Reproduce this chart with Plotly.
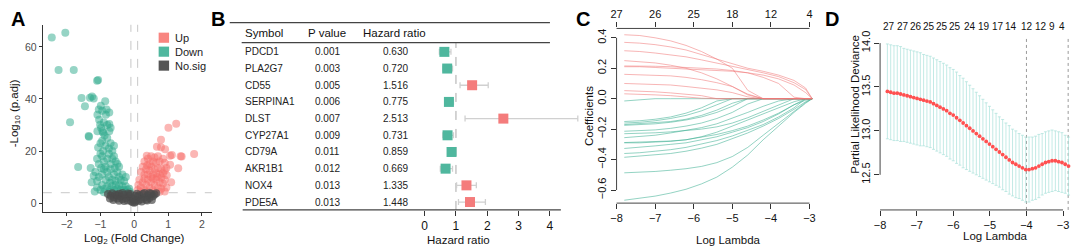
import plotly.graph_objects as go

W, H = 1072, 248
FONT = "Liberation Sans, Arial, Helvetica, sans-serif"


def X(px):
    return px / W


def Y(py):
    return 1 - py / H


# ---------------- Panel A: volcano ----------------
down_x = [-2.44, -2.04, -2.24, -1.79, -1.10, -1.07, -1.56, -1.31, -1.25, -1.20, -1.46, -0.86, -0.99, -0.74, -0.84, -1.90,
          -1.09, -1.04, -0.74, -1.01, -1.09, -0.94, -0.74, -1.35, -1.66, -1.29, -1.20, -1.26, -1.17, -1.10, -1.07, -1.34,
          -0.95, -0.85, -0.80, -0.75, -0.70, -0.65, -0.92, -1.00, -0.60, -0.88,
          -1.05, -0.95, -0.90, -0.80, -0.75, -0.70, -0.65, -0.60, -0.55, -0.50, -0.45, -0.85, -1.00, -0.58,
          -1.15, -1.05, -0.95, -0.90, -0.85, -0.80, -0.75, -0.70, -0.65, -0.60, -0.55, -0.50, -0.45, -0.40, -0.35, -0.30,
          -0.25, -1.10, -0.98, -0.72,
          -1.10, -1.00, -0.95, -0.88, -0.80, -0.72, -0.66, -0.60, -0.55, -0.50, -0.45, -0.40, -0.35, -0.30, -0.25, -0.20,
          -0.15, -0.12, -0.28, -0.50, -0.70, -0.90,
          -0.98, -0.90, -0.80, -0.70, -0.95, -1.05, -0.82, -0.92]
down_y = [63.6, 65.4, 51.1, 51.1, 47.0, 47.3, 40.4, 40.5, 41.0, 40.2, 37.2, 39.1, 37.4, 34.8, 33.9, 31.1,
          33.9, 32.0, 30.4, 30.1, 27.6, 27.6, 27.6, 25.8, 13.9, 13.5, 10.5, 8.0, 4.5, 17.0, 21.4, 25.5,
          24, 22, 25, 21, 23, 20, 20, 23, 22, 26,
          15, 18, 16, 17, 19, 15, 17, 18, 16, 15, 14, 14, 19, 13.5,
          12, 10, 11, 13, 9, 12, 10, 13, 9, 11, 8.5, 12, 10, 9, 11, 8.5,
          10, 8.5, 13.5, 7.8,
          6, 5, 7, 5.5, 6.5, 5, 6.5, 5, 7, 5.5, 7, 5, 6.5, 5, 6.5, 5,
          5.5, 4.3, 4.2, 4.2, 4.3, 4.2,
          29, 31, 30, 29, 35.5, 36, 36, 27]
up_x = [1.24, 1.01, 0.79, 0.79, 0.67, 1.06, 1.40, 1.77, 1.06, 1.30, 1.09, 0.37, 0.91, 1.11, 1.37, 0.96,
        0.30, 0.40, 0.50, 0.55, 0.60, 0.65, 0.70, 0.75, 0.45, 0.85, 0.90, 0.38,
        0.20, 0.25, 0.30, 0.35, 0.40, 0.45, 0.50, 0.55, 0.60, 0.65, 0.70, 0.75, 0.80, 0.85, 0.90, 0.95, 0.50, 0.68,
        0.10, 0.12, 0.15, 0.20, 0.25, 0.30, 0.35, 0.40, 0.45, 0.50, 0.55, 0.60, 0.65, 0.70, 0.75, 0.80, 0.85, 0.90,
        0.95, 0.90, 0.20, 0.40, 0.60, 0.75, 0.30, 0.55, 0.80]
up_y = [30.5, 29.0, 24.3, 21.5, 21.7, 18.2, 17.9, 18.9, 14.7, 13.4, 8.0, 18.2, 20.7, 18.5, 18.0, 10.7,
        16, 17, 18, 16, 17.5, 15.5, 18, 16, 15, 17, 15.5, 14.5,
        12, 14, 11, 13, 11, 12.5, 14, 11, 13, 11.5, 13.5, 11, 13, 11.5, 12.5, 13.5, 10, 10,
        5, 7, 9, 6, 8, 5, 7, 9, 6, 8, 5, 7, 9, 6, 8, 5.5, 7.5, 9,
        6, 4.5, 4.3, 4.3, 4.2, 4.4, 9.5, 9.5, 9.8]
ns_x = [-0.78, -0.70, -0.65, -0.60, -0.55, -0.50, -0.45, -0.40, -0.35, -0.30, -0.25, -0.20, -0.15, -0.10, -0.08, -0.05,
        0.00, 0.03, 0.06, 0.10, 0.12, 0.15, 0.20, 0.25, 0.30, 0.35, 0.40, 0.45, 0.50, 0.55, 0.60, 0.65, -0.62, -0.45,
        -0.30, -0.18, -0.02, 0.08, 0.22, 0.38, 0.52, -0.72, -0.50, 0.30, 0.45, -0.35, -0.12, 0.02]
ns_y = [3.5, 2.8, 3.8, 2.2, 3.2, 1.8, 3.6, 2.5, 1.5, 3.2, 2.0, 1.0, 2.8, 0.8, 2.0, 0.3,
        0.1, 0.5, 1.2, 2.5, 0.9, 3.0, 1.5, 3.5, 2.2, 1.3, 3.0, 2.0, 3.6, 2.6, 3.3, 3.8, 1.2, 0.9,
        0.8, 3.7, 1.5, 3.6, 0.6, 1.0, 1.2, 1.8, 2.9, 3.9, 3.9, 3.9, 3.5, 2.8]
a_xticks = [-2, -1, 0, 1, 2]
a_yticks = [0, 20, 40, 60]
fc_cut = 0.1
p_cut = 4
legend_labels = ["Up", "Down", "No.sig"]

# ---------------- Panel B: forest ----------------
symbols = ["PDCD1", "PLA2G7", "CD55", "SERPINA1", "DLST", "CYP27A1", "CD79A", "AKR1B1", "NOX4", "PDE5A"]
p_values = ["0.001", "0.003", "0.005", "0.006", "0.007", "0.009", "0.011", "0.012", "0.013", "0.013"]
hazard = [0.630, 0.720, 1.516, 0.775, 2.513, 0.731, 0.859, 0.669, 1.335, 1.448]
ci_low = [0.47, 0.58, 1.13, 0.65, 1.29, 0.58, 0.77, 0.50, 1.02, 1.08]
ci_high = [0.84, 0.89, 2.03, 0.92, 4.89, 0.92, 0.96, 0.89, 1.65, 1.94]
b_xticks = [0, 1, 2, 3, 4]

# ---------------- Panel C: lasso paths ----------------
c_loglam = [-7.8, -7.4, -7.0, -6.6, -6.2, -5.8, -5.4, -5.0, -4.6, -4.2, -3.8, -3.4, -3.1, -2.93]
c_pos_paths = [
    [0.420, 0.415, 0.400, 0.380, 0.350, 0.310, 0.260, 0.200, 0.055, 0, 0, 0, 0, 0],
    [0.370, 0.365, 0.355, 0.340, 0.320, 0.290, 0.260, 0.225, 0.200, 0.180, 0.155, 0.120, 0.070, 0],
    [0.315, 0.310, 0.300, 0.290, 0.275, 0.255, 0.235, 0.210, 0.190, 0.170, 0.145, 0.105, 0.060, 0],
    [0.250, 0.245, 0.235, 0.220, 0.200, 0.170, 0.130, 0.080, 0.025, 0, 0, 0, 0, 0],
    [0.215, 0.215, 0.213, 0.210, 0.205, 0.200, 0.195, 0.185, 0.170, 0.140, 0.100, 0.010, 0, 0],
    [0.210, 0.210, 0.205, 0.200, 0.195, 0.190, 0.185, 0.180, 0.170, 0.155, 0.130, 0.090, 0.040, 0],
    [0.160, 0.158, 0.155, 0.150, 0.140, 0.125, 0.105, 0.080, 0.030, 0, 0, 0, 0, 0],
    [0.100, 0.098, 0.095, 0.090, 0.080, 0.070, 0.058, 0.040, 0.012, 0, 0, 0, 0, 0],
    [0.053, 0.050, 0.045, 0.038, 0.030, 0.020, 0, 0, 0, 0, 0, 0, 0, 0],
    [0.032, 0.030, 0.025, 0.020, 0.012, 0.003, 0, 0, 0, 0, 0, 0, 0, 0],
]
c_neg_paths = [
    [-0.667, -0.655, -0.640, -0.620, -0.595, -0.560, -0.515, -0.450, -0.370, -0.270, -0.180, -0.090, -0.030, 0],
    [-0.487, -0.483, -0.478, -0.470, -0.460, -0.445, -0.420, -0.380, -0.320, -0.240, -0.160, -0.080, -0.025, 0],
    [-0.385, -0.378, -0.370, -0.360, -0.345, -0.325, -0.300, -0.265, -0.225, -0.180, -0.130, -0.070, -0.020, 0],
    [-0.360, -0.355, -0.345, -0.335, -0.320, -0.300, -0.275, -0.245, -0.210, -0.170, -0.120, -0.060, 0, 0],
    [-0.327, -0.320, -0.310, -0.300, -0.290, -0.270, -0.250, -0.220, -0.190, -0.150, -0.100, -0.040, 0, 0],
    [-0.290, -0.290, -0.285, -0.280, -0.270, -0.255, -0.235, -0.210, -0.180, -0.140, -0.095, -0.040, -0.010, 0],
    [-0.288, -0.286, -0.283, -0.278, -0.270, -0.250, -0.220, -0.180, -0.140, -0.100, -0.060, -0.020, 0, 0],
    [-0.256, -0.250, -0.240, -0.225, -0.210, -0.190, -0.165, -0.130, -0.090, -0.050, -0.015, 0, 0, 0],
    [-0.230, -0.228, -0.224, -0.218, -0.210, -0.200, -0.185, -0.160, -0.125, -0.085, -0.040, 0, 0, 0],
    [-0.214, -0.210, -0.205, -0.195, -0.180, -0.160, -0.130, -0.090, -0.035, 0, 0, 0, 0, 0],
    [-0.175, -0.172, -0.165, -0.155, -0.140, -0.120, -0.090, -0.050, 0, 0, 0, 0, 0, 0],
    [-0.170, -0.165, -0.160, -0.150, -0.135, -0.110, -0.075, -0.030, 0, 0, 0, 0, 0, 0],
    [-0.160, -0.155, -0.145, -0.130, -0.110, -0.080, -0.040, 0, 0, 0, 0, 0, 0, 0],
    [-0.150, -0.145, -0.135, -0.120, -0.095, -0.060, -0.015, 0, 0, 0, 0, 0, 0, 0],
    [-0.015, -0.008, 0, 0, 0, 0, 0, 0, 0, 0, 0, 0, 0, 0],
]
c_xticks = [-8, -7, -6, -5, -4, -3]
c_df_labels = ["27", "26", "25", "18", "12", "4"]
c_yticks = [-0.6, -0.4, -0.2, 0.0, 0.2, 0.4]

# ---------------- Panel D: CV deviance ----------------
d_loglam = [-7.80, -7.71, -7.62, -7.53, -7.44, -7.35, -7.26, -7.17, -7.08, -6.99, -6.90, -6.81, -6.72, -6.63,
            -6.54, -6.45, -6.36, -6.27, -6.18, -6.09, -6.00, -5.91, -5.82, -5.73, -5.64, -5.55, -5.46, -5.37,
            -5.28, -5.19, -5.10, -5.01, -4.92, -4.83, -4.74, -4.65, -4.56, -4.47, -4.38, -4.29, -4.20, -4.11,
            -4.02, -3.93, -3.84, -3.75, -3.66, -3.57, -3.48, -3.39, -3.30, -3.21, -3.12, -3.03, -2.94, -2.85]
d_mean = [13.45, 13.44, 13.43, 13.43, 13.42, 13.41, 13.40, 13.39, 13.38, 13.37,
          13.36, 13.35, 13.34, 13.33, 13.31, 13.29, 13.27, 13.25, 13.23, 13.20,
          13.18, 13.15, 13.12, 13.09, 13.06, 13.03, 13.00, 12.97, 12.94, 12.91,
          12.88, 12.85, 12.82, 12.79, 12.76, 12.73, 12.70, 12.67, 12.64, 12.62,
          12.60, 12.58, 12.56, 12.56, 12.57, 12.58, 12.60, 12.62, 12.64, 12.65,
          12.66, 12.66, 12.65, 12.64, 12.62, 12.60]
d_se = [0.54, 0.54, 0.54, 0.54, 0.54, 0.53, 0.53, 0.53, 0.53, 0.53, 0.53,
        0.52, 0.52, 0.52, 0.52, 0.52, 0.52, 0.52, 0.52, 0.52, 0.52, 0.52,
        0.51, 0.51, 0.50, 0.49,
        0.48, 0.47, 0.46, 0.45, 0.44,
        0.43, 0.42, 0.41, 0.40, 0.40,
        0.39, 0.39, 0.38, 0.38, 0.37, 0.37, 0.37,
        0.37, 0.36, 0.36, 0.36, 0.35, 0.35, 0.35,
        0.35, 0.34, 0.34, 0.34, 0.33, 0.33]
d_top_pos = [-7.76, -7.37, -7.03, -6.67, -6.32, -5.96, -5.55, -5.17, -4.79, -4.41, -3.98, -3.60, -3.31, -3.04]
d_top_labels = ["27", "27", "26", "25", "25", "25", "24", "19", "17", "14", "12", "12", "9", "4"]
d_lambda_min = -4.0
d_lambda_1se = -2.86
d_xticks = [-8, -7, -6, -5, -4, -3]
d_yticks = [12.5, 13.0, 13.5, 14.0]

# ---------------- geometry ----------------
A_dx, A_rx = [X(37), X(207)], [-2.706, 2.294]
A_dy, A_ry = [Y(211), Y(19)], [-3.37, 68.6]
B_dx, B_rx = [X(405), X(580)], [-0.508, 5.048]
B_dy, B_ry = [Y(209), Y(38)], [9.474, -0.526]
C_dx, C_rx = [X(614), X(818)], [-8.0, -2.742]
C_dy, C_ry = [Y(202), Y(23)], [-0.686, 0.4615]
D_dx, D_rx = [X(879), 1.0], [-8.0, -2.755]
D_dy, D_ry = [Y(209), Y(31.7)], [12.1, 14.07]


def to_paper(v, dom, rng):
    return dom[0] + (v - rng[0]) / (rng[1] - rng[0]) * (dom[1] - dom[0])


TEAL = "rgba(45,170,140,0.5)"
RED = "rgba(248,110,105,0.5)"
GRAY = "rgba(75,75,75,0.7)"

fig = go.Figure()

# A
for xs, ys, col in [(down_x, down_y, TEAL), (up_x, up_y, RED), (ns_x, ns_y, GRAY)]:
    fig.add_trace(go.Scatter(x=xs, y=ys, mode="markers", xaxis="x", yaxis="y", showlegend=False,
                             hoverinfo="skip", marker=dict(size=8, color=col, line=dict(width=0))))

# B
b_colors = ["#F47C7C" if h > 1 else "#4FB79E" for h in hazard]
fig.add_trace(go.Scatter(
    x=hazard, y=symbols, mode="markers", xaxis="x2", yaxis="y2", showlegend=False, cliponaxis=False,
    marker=dict(symbol="square", size=10, color=b_colors, line=dict(width=0)),
    error_x=dict(type="data", symmetric=False,
                 array=[hi - h for hi, h in zip(ci_high, hazard)],
                 arrayminus=[h - lo for lo, h in zip(ci_low, hazard)],
                 color="#D0D0D0", thickness=1.3, width=3)))

# C
for path in c_neg_paths:
    fig.add_trace(go.Scatter(x=c_loglam, y=path, mode="lines", xaxis="x3", yaxis="y3", showlegend=False,
                             hoverinfo="skip", line=dict(color="rgba(60,175,145,0.55)", width=1)))
for path in c_pos_paths:
    fig.add_trace(go.Scatter(x=c_loglam, y=path, mode="lines", xaxis="x3", yaxis="y3", showlegend=False,
                             hoverinfo="skip", line=dict(color="rgba(240,120,120,0.55)", width=1)))
# register the top (df) axis of C
fig.add_trace(go.Scatter(x=c_loglam, y=c_pos_paths[0], mode="none", xaxis="x5", yaxis="y3",
                         showlegend=False, hoverinfo="skip"))

# D
fig.add_trace(go.Scatter(
    x=d_loglam, y=d_mean, mode="markers", xaxis="x4", yaxis="y4", showlegend=False,
    marker=dict(size=3.8, color="#FF5050"),
    error_y=dict(type="data", array=d_se, color="rgba(172,226,219,0.8)", thickness=0.9, width=1.5)))

axis_common = dict(showgrid=False, zeroline=False, ticks="outside", tickcolor="#333",
                   tickfont=dict(family=FONT, size=11, color="#111"))

layout = dict(
    width=W, height=H, autosize=False,
    margin=dict(l=0, r=0, t=0, b=0, pad=0),
    paper_bgcolor="white", plot_bgcolor="white",
    font=dict(family=FONT, color="#111"),
    xaxis=dict(domain=A_dx, range=A_rx, anchor="y", tickvals=a_xticks, showline=True, linecolor="#333",
               linewidth=1, ticklen=3, showgrid=False, zeroline=False, ticks="outside", tickcolor="#333",
               tickfont=dict(family=FONT, size=10.5, color="#4D4D4D")),
    yaxis=dict(domain=A_dy, range=A_ry, anchor="x", tickvals=a_yticks, showline=True, linecolor="#333",
               linewidth=1, ticklen=3, showgrid=False, zeroline=False, ticks="outside", tickcolor="#333",
               tickfont=dict(family=FONT, size=10.5, color="#4D4D4D")),
    xaxis2=dict(domain=B_dx, range=B_rx, anchor="y2", tickvals=b_xticks, showline=False, ticklen=5,
                **{k: v for k, v in axis_common.items() if k != "tickfont"},
                tickfont=dict(family=FONT, size=12, color="#111")),
    yaxis2=dict(domain=B_dy, range=B_ry, anchor="x2", type="category", categoryorder="array",
                categoryarray=symbols, visible=False),
    xaxis3=dict(domain=C_dx, range=C_rx, anchor="y3", tickvals=c_xticks, showline=False, ticklen=5,
                **axis_common),
    yaxis3=dict(domain=C_dy, range=C_ry, anchor="x3", tickvals=c_yticks, tickformat=".1f", tickangle=-90,
                showline=False, ticklen=5, **axis_common),
    xaxis5=dict(overlaying="x3", anchor="y3", side="top", range=C_rx, tickvals=c_xticks, ticktext=c_df_labels,
                tickangle=0, showline=False, ticklen=5, **axis_common),
    xaxis4=dict(domain=D_dx, range=D_rx, anchor="y4", tickvals=d_xticks, showline=False, ticklen=5,
                **axis_common),
    yaxis4=dict(domain=D_dy, range=D_ry, anchor="x4", tickvals=d_yticks, tickformat=".1f", tickangle=-90,
                showline=False, ticklen=5, **axis_common),
)

shapes = []
ann = []

# A: cutoff lines
for v in (-fc_cut, fc_cut):
    shapes.append(dict(type="line", xref="x", yref="y", x0=v, x1=v, y0=A_ry[0], y1=A_ry[1],
                       line=dict(color="#C8C8C8", width=1, dash="dash"), layer="below"))
shapes.append(dict(type="line", xref="x", yref="y", x0=A_rx[0], x1=A_rx[1], y0=p_cut, y1=p_cut,
                   line=dict(color="#C8C8C8", width=1, dash="dash"), layer="below"))
# A legend
leg_cols = ["#F88580", "#4FB79E", "#555555"]
for i, (lab, col) in enumerate(zip(legend_labels, leg_cols)):
    cy = 32.5 + i * 14.3
    shapes.append(dict(type="rect", xref="paper", yref="paper", x0=X(153.5), x1=X(164), y0=Y(cy + 5.2),
                       y1=Y(cy - 5.2), fillcolor=col, line=dict(width=0)))
    ann.append(dict(text=lab, x=X(168), y=Y(cy), xref="paper", yref="paper", xanchor="left",
                    yanchor="middle", showarrow=False, font=dict(size=11, color="#222")))

# B table lines
shapes.append(dict(type="line", xref="paper", yref="paper", x0=X(225), x1=X(547), y0=Y(17), y1=Y(17),
                   line=dict(color="#444", width=1.3)))
shapes.append(dict(type="line", xref="paper", yref="paper", x0=X(237), x1=X(547), y0=Y(37.5), y1=Y(37.5),
                   line=dict(color="#444", width=1.2)))
shapes.append(dict(type="line", xref="paper", yref="paper", x0=X(238), x1=X(558), y0=B_dy[0], y1=B_dy[0],
                   line=dict(color="#444", width=1.2)))
shapes.append(dict(type="line", xref="x2", yref="y2", x0=1, x1=1, y0=B_ry[0], y1=B_ry[1],
                   line=dict(color="#AAAAAA", width=1, dash="dash"), layer="below"))
ann += [
    dict(text="Symbol", x=X(238), y=Y(28), xanchor="left"),
    dict(text="P value", x=X(323), y=Y(28), xanchor="center"),
    dict(text="Hazard ratio", x=X(391), y=Y(28), xanchor="center"),
]
for a in ann[-3:]:
    a.update(xref="paper", yref="paper", yanchor="middle", showarrow=False, font=dict(size=11.5, color="#111"))
for i, (s, p, h) in enumerate(zip(symbols, p_values, hazard)):
    for txt, px, anc in [(s, 238, "left"), (p, 323, "center"), (f"{h:.3f}", 392, "center")]:
        ann.append(dict(text=txt, x=X(px), y=i, xref="paper", yref="y2", xanchor=anc, yanchor="middle",
                        showarrow=False, font=dict(size=10, color="#222")))
ann.append(dict(text="Hazard ratio", x=X(455), y=Y(240), xref="paper", yref="paper", xanchor="center",
                yanchor="middle", showarrow=False, font=dict(size=11.5, color="#111")))

# C axis lines (R style)
lc = dict(color="#444", width=1)
shapes.append(dict(type="line", xref="paper", yref="paper", x0=C_dx[0], x1=C_dx[0],
                   y0=to_paper(c_yticks[0], C_dy, C_ry), y1=to_paper(c_yticks[-1], C_dy, C_ry), line=lc))
for yy in (C_dy[0], C_dy[1]):
    shapes.append(dict(type="line", xref="paper", yref="paper", x0=to_paper(c_xticks[0], C_dx, C_rx),
                       x1=to_paper(c_xticks[-1], C_dx, C_rx), y0=yy, y1=yy, line=lc))
# D axis lines
shapes.append(dict(type="line", xref="paper", yref="paper", x0=D_dx[0], x1=D_dx[0],
                   y0=to_paper(d_yticks[0], D_dy, D_ry), y1=to_paper(d_yticks[-1], D_dy, D_ry), line=lc))
shapes.append(dict(type="line", xref="paper", yref="paper", x0=to_paper(d_xticks[0], D_dx, D_rx),
                   x1=to_paper(d_xticks[-1], D_dx, D_rx), y0=D_dy[0], y1=D_dy[0], line=lc))
for v in (d_lambda_min, d_lambda_1se):
    shapes.append(dict(type="line", xref="x4", yref="y4", x0=v, x1=v, y0=D_ry[0], y1=D_ry[1],
                       line=dict(color="#9A9A9A", width=1, dash="dot"), layer="below"))
# D top df labels
for pos, lab in zip(d_top_pos, d_top_labels):
    ann.append(dict(text=lab, x=pos, y=Y(21), xref="x4", yref="paper", xanchor="center", yanchor="middle",
                    showarrow=False, font=dict(size=10, color="#111")))


# axis titles
def title(text, px, py, angle=0, size=11.5):
    ann.append(dict(text=text, x=X(px), y=Y(py), xref="paper", yref="paper", xanchor="center",
                    yanchor="middle", showarrow=False, textangle=angle, font=dict(size=size, color="#111")))


title("-Log<sub>10</sub> (p.adj)", 9, 110, -90)
title("Log<sub>2</sub> (Fold Change)", 129, 239)
title("Coefficients", 587, 113, -90)
title("Log Lambda", 727, 240)
title("Partial Likelihood Deviance", 853, 101, -90)
title("Log Lambda", 995, 236)

# panel letters
for letter, px in [("A", 12), ("B", 213), ("C", 580), ("D", 831)]:
    ann.append(dict(text=f"<b>{letter}</b>", x=X(px), y=Y(13.5), xref="paper", yref="paper",
                    xanchor="center", yanchor="middle", showarrow=False, font=dict(size=20, color="#000")))

layout["shapes"] = shapes
layout["annotations"] = ann
fig.update_layout(**layout)
fig.write_html("out.html", config={"displayModeBar": False},
               post_script="document.body.style.margin='0';document.body.style.padding='0';"
                           "document.body.style.overflow='hidden';")
